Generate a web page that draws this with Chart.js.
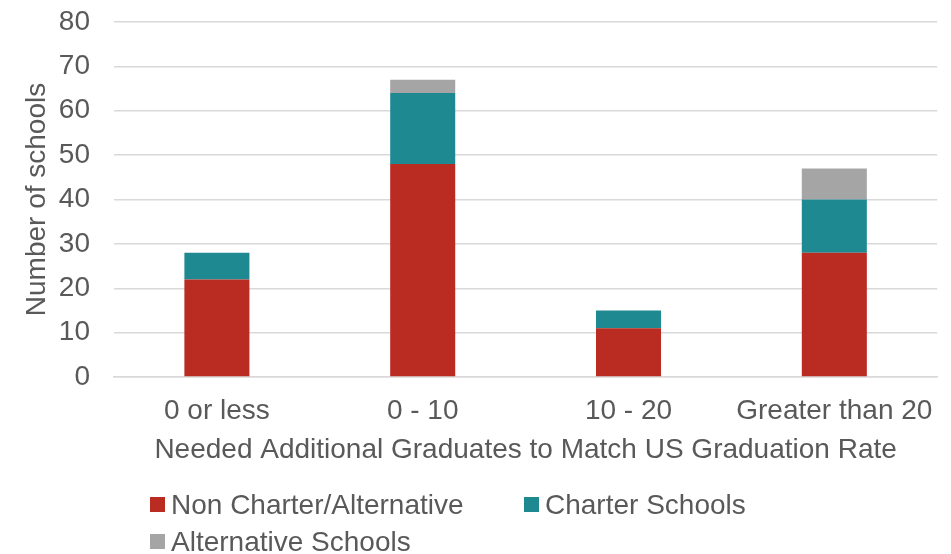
<!DOCTYPE html>
<html>
<head>
<meta charset="utf-8">
<script src="https://cdn.jsdelivr.net/npm/chart.js@4.4.1/dist/chart.umd.min.js"></script>
<style>
  html, body { margin: 0; padding: 0; background: #fff; }
  #wrap { position: relative; width: 951px; height: 554px; }
  #legend { position: absolute; left: 0; top: 0; font-family: "Liberation Sans", Arial, sans-serif; font-size: 28px; color: #595959; }
  .li { position: absolute; white-space: nowrap; line-height: 1; }
  .sw { position: absolute; width: 15px; height: 15px; }
</style>
</head>
<body>
<div id="wrap">
  <canvas id="c" width="951" height="554"></canvas>
  <div id="legend"></div>
</div>
<script>
const categories = ["0 or less", "0 - 10", "10 - 20", "Greater than 20"];
const seriesNames = ["Non Charter/Alternative", "Charter Schools", "Alternative Schools"];
const nonCharter = [22, 48, 11, 28];
const charter = [6, 16, 4, 12];
const alternative = [0, 3, 0, 7];
const colors = ["#BA2C21", "#1E8990", "#A5A5A5"];

const FONT = "'Liberation Sans', Arial, sans-serif";
const TXT = "#595959";

const ctx = document.getElementById('c').getContext('2d');
const chart = new Chart(ctx, {
  type: 'bar',
  data: {
    labels: categories,
    datasets: [
      { label: seriesNames[0], data: nonCharter, backgroundColor: colors[0] },
      { label: seriesNames[1], data: charter, backgroundColor: colors[1] },
      { label: seriesNames[2], data: alternative, backgroundColor: colors[2] }
    ]
  },
  options: {
    responsive: false,
    animation: false,
    devicePixelRatio: 1,
    layout: { padding: { left: 3, right: 13, top: 0, bottom: 87 } },
    datasets: { bar: { categoryPercentage: 1, barPercentage: 0.316, borderWidth: 0 } },
    plugins: { legend: { display: false }, tooltip: { enabled: false } },
    scales: {
      x: {
        stacked: true,
        grid: { display: false, drawTicks: false },
        border: { display: true, color: '#D9D9D9', width: 1.5 },
        ticks: { color: TXT, font: { family: FONT, size: 28 }, padding: 17 },
        title: { display: true, text: 'Needed Additional Graduates to Match US Graduation Rate', color: TXT, font: { family: FONT, size: 28 }, padding: { top: 0, bottom: 0 } },
        afterFit: s => { s.height = 90; }
      },
      y: {
        stacked: true,
        min: 0, max: 80,
        grid: { color: '#D9D9D9', lineWidth: 1.5, drawTicks: false },
        border: { display: false },
        ticks: { stepSize: 10, color: TXT, font: { family: FONT, size: 28 }, padding: 24 },
        title: { display: true, text: 'Number of schools', color: TXT, font: { family: FONT, size: 28 }, padding: { top: 17, bottom: 0 } },
        afterFit: s => { s.width = 111; s.paddingTop = 22; }
      }
    }
  }
});

// HTML legend built from dataset labels/colors
const legendPos = [[150, 491], [524, 491], [150, 528]];
const lg = document.getElementById('legend');
chart.data.datasets.forEach((ds, i) => {
  const sw = document.createElement('div');
  sw.className = 'sw';
  sw.style.left = legendPos[i][0] + 'px';
  sw.style.top = (legendPos[i][1] + 6) + 'px';
  sw.style.background = ds.backgroundColor;
  lg.appendChild(sw);
  const t = document.createElement('div');
  t.className = 'li';
  t.style.left = (legendPos[i][0] + 21) + 'px';
  t.style.top = legendPos[i][1] + 'px';
  t.textContent = ds.label;
  lg.appendChild(t);
});
</script>
</body>
</html>
